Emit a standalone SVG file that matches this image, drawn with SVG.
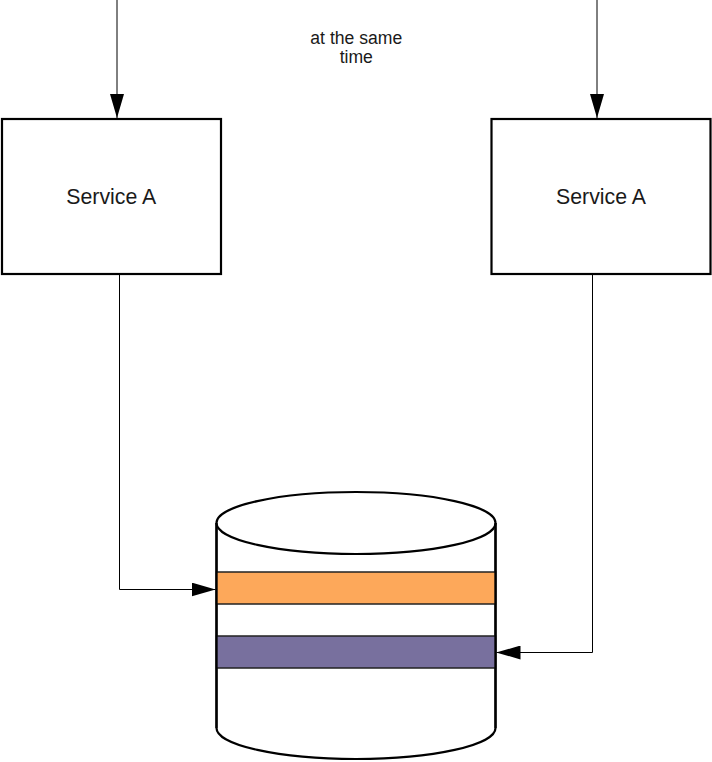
<svg xmlns="http://www.w3.org/2000/svg" width="712" height="762" viewBox="0 0 712 762">
<defs>
<style>
.box{fill:#fff;stroke:#000;stroke-width:2.2}
.lbl{font-family:"Liberation Sans",Arial,sans-serif;fill:#1a1a1a;text-anchor:middle}
.conn{fill:none;stroke:#000;stroke-width:1}
.cyl{fill:#fff;stroke:#000;stroke-width:2.2}
.band{stroke:#222;stroke-width:1.5}
</style>
<marker id="ah" viewBox="0 0 24 14" refX="24" refY="7" markerWidth="24" markerHeight="14" markerUnits="userSpaceOnUse" orient="auto">
<path d="M0,0 L24,7 L0,14 Z" fill="#000"/>
</marker>
</defs>
<rect width="712" height="762" fill="#fff"/>
<g id="serviceA1">
<rect class="box" x="2" y="119" width="219" height="155"/>
<text class="lbl" x="111.3" y="204" font-size="21.3">Service A</text>
</g>
<g id="serviceA2">
<rect class="box" x="491.5" y="119" width="219" height="155"/>
<text class="lbl" x="601" y="204" font-size="21.3">Service A</text>
</g>
<g id="database">
<path class="cyl" d="M216.5,523 L216.5,728 A139.5,31 0 0 0 495.5,728 L495.5,523 A139.5,31 0 0 0 216.5,523 Z"/>
<rect class="band" x="216.5" y="572" width="279" height="32" fill="#fda85a"/>
<rect class="band" x="216.5" y="636" width="279" height="32" fill="#78709e"/>
<path class="cyl" fill="none" d="M216.5,523 A139.5,31 0 0 0 495.5,523"/>
<path fill="none" stroke="#000" stroke-width="2.2" d="M216.5,523 L216.5,728 M495.5,523 L495.5,728"/>
</g>
<g id="note">
<text class="lbl" x="356.3" y="44" font-size="17.6">at the same</text>
<text class="lbl" x="356.3" y="63" font-size="17.6">time</text>
</g>
<g id="connectors">
<path class="conn" d="M117,0 L117,118" marker-end="url(#ah)"/>
<path class="conn" d="M597,0 L597,118" marker-end="url(#ah)"/>
<path class="conn" d="M119.5,275 L119.5,589.5 L215.5,589.5" marker-end="url(#ah)"/>
<path class="conn" d="M592.5,275 L592.5,652.5 L496.5,652.5" marker-end="url(#ah)"/>
</g>
</svg>
